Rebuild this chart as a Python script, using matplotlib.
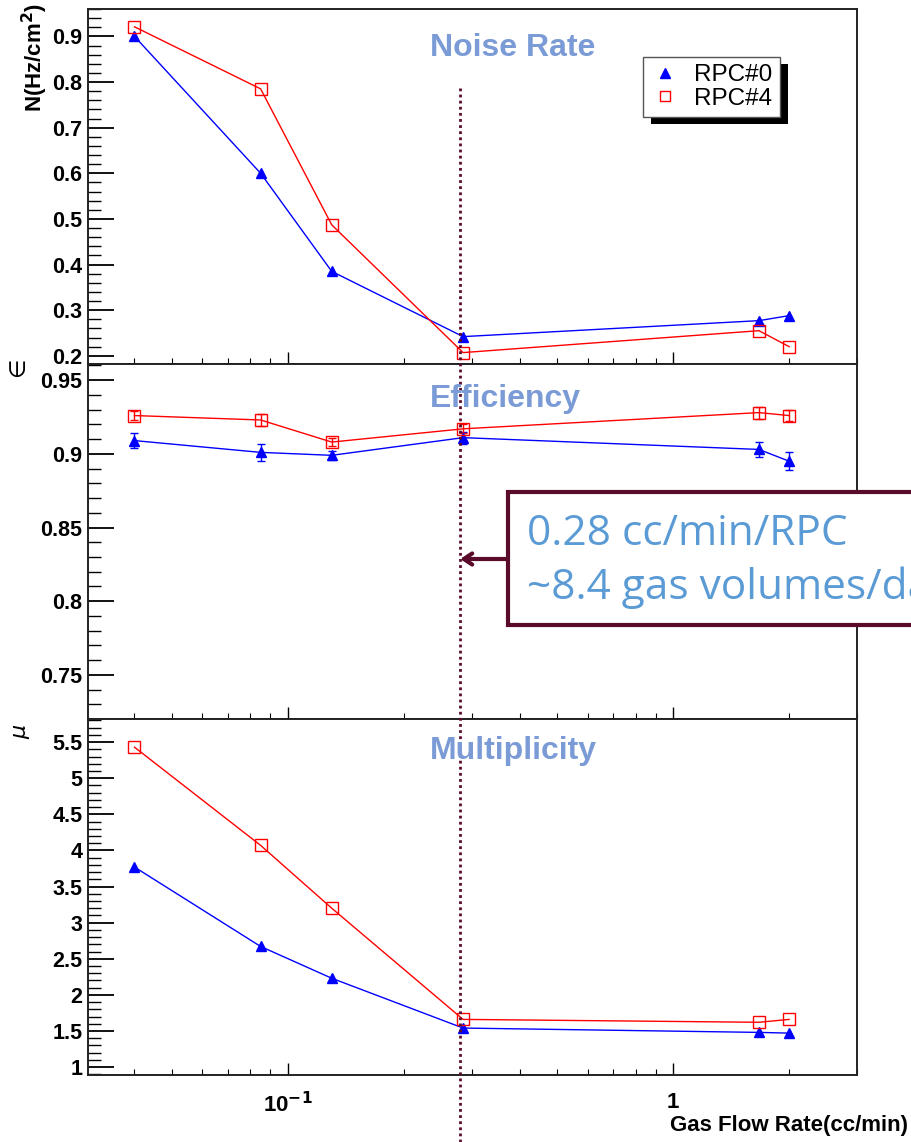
import matplotlib
matplotlib.use("Agg")
import matplotlib.pyplot as plt
import matplotlib.transforms as mtransforms
from matplotlib.lines import Line2D
from matplotlib.patches import Rectangle
from matplotlib.ticker import AutoMinorLocator, LogLocator, NullFormatter, FixedLocator, FixedFormatter

plt.rcParams['font.family'] = ['Liberation Sans', 'DejaVu Sans']

# gas flow rate (cc/min)
flow = [0.04, 0.085, 0.13, 0.285, 1.67, 2.0]

# noise rate N (Hz/cm^2)
noise_rpc0 = [0.900, 0.600, 0.385, 0.242, 0.277, 0.288]
noise_rpc4 = [0.921, 0.785, 0.487, 0.207, 0.255, 0.220]

# efficiency
eff_rpc0 = [0.909, 0.901, 0.899, 0.911, 0.903, 0.895]
eff_rpc0_err = [0.005, 0.006, 0.003, 0.004, 0.005, 0.006]
eff_rpc4 = [0.926, 0.923, 0.908, 0.917, 0.928, 0.926]
eff_rpc4_err = [0.003, 0.004, 0.003, 0.003, 0.004, 0.004]

# multiplicity
mult_rpc0 = [3.77, 2.67, 2.23, 1.54, 1.48, 1.47]
mult_rpc4 = [5.43, 4.07, 3.20, 1.66, 1.62, 1.66]

flow_mark = 0.28
W, H = 911, 1142
title_col = '#7b9bd6'
maroon = '#5a0a2a'

fig = plt.figure(figsize=(W / 100, H / 100), dpi=100)

left, width = 88 / W, (857 - 88) / W
def row(top, bottom):
    return [left, 1 - bottom / H, width, (bottom - top) / H]

ax1 = fig.add_axes(row(9, 364))
ax2 = fig.add_axes(row(364, 719))
ax3 = fig.add_axes(row(719, 1075))

tri = dict(color='blue', marker='^', markersize=7, lw=1.0)
sq = dict(color='red', marker='s', markersize=8, lw=1.0,
          markerfacecolor='none', markeredgewidth=1.0)

ax1.plot(flow, noise_rpc0, **tri)
ax1.plot(flow, noise_rpc4, **sq)

ax2.errorbar(flow, eff_rpc0, yerr=eff_rpc0_err, capsize=3, elinewidth=1, **tri)
ax2.errorbar(flow, eff_rpc4, yerr=eff_rpc4_err, capsize=3, elinewidth=1, **sq)

ax3.plot(flow, mult_rpc0, **tri)
ax3.plot(flow, mult_rpc4, **sq)

ax1.set_ylim(0.182, 0.96)
ax2.set_ylim(0.72, 0.961)
ax3.set_ylim(0.89, 5.82)
ax1.yaxis.set_major_locator(FixedLocator([0.2, 0.3, 0.4, 0.5, 0.6, 0.7, 0.8, 0.9]))
ax2.yaxis.set_major_locator(FixedLocator([0.75, 0.8, 0.85, 0.9, 0.95]))
ax2.yaxis.set_major_formatter(FixedFormatter(['0.75', '0.8', '0.85', '0.9', '0.95']))
ax3.yaxis.set_major_locator(FixedLocator([1, 1.5, 2, 2.5, 3, 3.5, 4, 4.5, 5, 5.5]))
ax3.yaxis.set_major_formatter(FixedFormatter(['1', '1.5', '2', '2.5', '3', '3.5', '4', '4.5', '5', '5.5']))

for ax in (ax1, ax2, ax3):
    ax.set_xscale('log')
    ax.set_xlim(0.0303, 3.0)
    ax.xaxis.set_major_locator(LogLocator(base=10))
    ax.xaxis.set_minor_locator(LogLocator(base=10, subs=range(2, 10)))
    ax.xaxis.set_minor_formatter(NullFormatter())
    ax.yaxis.set_minor_locator(AutoMinorLocator(5))
    ax.tick_params(axis='y', which='major', direction='in', length=19, width=1.3,
                   labelsize=15.5, pad=4)
    ax.tick_params(axis='y', which='minor', direction='in', length=9, width=1.0)
    ax.tick_params(axis='x', which='major', direction='in', length=9, width=1.0,
                   labelsize=16, pad=12)
    ax.tick_params(axis='x', which='minor', direction='in', length=4, width=0.8)
    for lab in ax.get_yticklabels():
        lab.set_fontweight('bold')
    for sp in ax.spines.values():
        sp.set_linewidth(1.4)
        sp.set_color('#222222')

for ax in (ax1, ax2):
    ax.tick_params(axis='x', labelbottom=False)
ax3.xaxis.set_major_locator(FixedLocator([0.1, 1]))
ax3.xaxis.set_major_formatter(FixedFormatter(['10$^{\\mathbf{-1}}$', '1']))
for lab in ax3.get_xticklabels():
    lab.set_fontweight('bold')

# panel titles
for ypix, name in [(48, 'Noise Rate'), (399, 'Efficiency'), (751, 'Multiplicity')]:
    fig.text(430 / W, 1 - ypix / H, name, color=title_col, fontsize=23,
             fontweight='bold', ha='left', va='center')

# axis titles
fig.text(35 / W, 1 - 3 / H, 'N(Hz/cm$^{\\mathbf{2}}$)', rotation=90, fontsize=16,
         fontweight='bold', ha='center', va='top')
fig.text(20 / W, 1 - 371 / H, '$\\in$', rotation=90, fontsize=16,
         ha='center', va='center')
fig.text(22 / W, 1 - 731 / H, '$\\mu$', rotation=90, fontsize=16,
         ha='center', va='center')
fig.text(908 / W, 6 / H, 'Gas Flow Rate(cc/min)', fontsize=16, fontweight='bold',
         ha='right', va='bottom')

# legend (markers only) with solid drop shadow
handles = [Line2D([], [], ls='none', color='blue', marker='^', markersize=7),
           Line2D([], [], ls='none', color='red', marker='s', markersize=7,
                  markerfacecolor='none', markeredgewidth=1.0)]
leg = ax1.legend(handles, ['RPC#0', 'RPC#4'], loc='upper left',
                 bbox_to_anchor=(643 / W, 1 - 57 / H), bbox_transform=fig.transFigure,
                 fontsize=17.5, frameon=True, fancybox=False, framealpha=1,
                 borderpad=0.3, handlelength=1.2, handletextpad=0.6,
                 labelspacing=0.05, borderaxespad=0)
leg.get_frame().set_edgecolor('#555555')
leg.get_frame().set_linewidth(1.0)
leg.set_zorder(6)
fig.canvas.draw()
bb = leg.get_window_extent()
shadow = Rectangle((bb.x0 + 8, bb.y0 - 7), bb.width, bb.height, facecolor='black',
                   edgecolor='none', transform=mtransforms.IdentityTransform(),
                   zorder=5.9, clip_on=False)
ax1.add_patch(shadow)

# vertical marker at the chosen flow rate
blend = mtransforms.blended_transform_factory(ax3.transData, fig.transFigure)
ax3.plot([flow_mark, flow_mark], [1 - 88 / H, 0], transform=blend, color=maroon,
         lw=2.0, ls=(0, (1, 1.2)), clip_on=False, zorder=10)

# callout box
box = Rectangle((508 / W, 1 - 625 / H), 450 / W, 133 / H, transform=fig.transFigure,
                facecolor='white', edgecolor=maroon, lw=3, zorder=20)
fig.patches.append(box)
fig.text(527 / W, 1 - 545 / H, '0.28 cc/min/RPC', fontsize=30.5, color='#5b9bd5',
         family=['Open Sans', 'DejaVu Sans'], ha='left', va='baseline', zorder=21)
fig.text(527 / W, 1 - 599 / H, '~8.4 gas volumes/day', fontsize=30.5, color='#5b9bd5',
         family=['Open Sans', 'DejaVu Sans'], ha='left', va='baseline', zorder=21)
arrow_y = 1 - 559 / H
ax2.annotate('', xy=(flow_mark, arrow_y), xycoords=blend,
             xytext=(508 / W, arrow_y), textcoords='figure fraction',
             arrowprops=dict(arrowstyle='->,head_length=0.6,head_width=0.4',
                             color=maroon, lw=3, shrinkA=0, shrinkB=0),
             annotation_clip=False, zorder=20)

fig.savefig('out.png', dpi=100)
